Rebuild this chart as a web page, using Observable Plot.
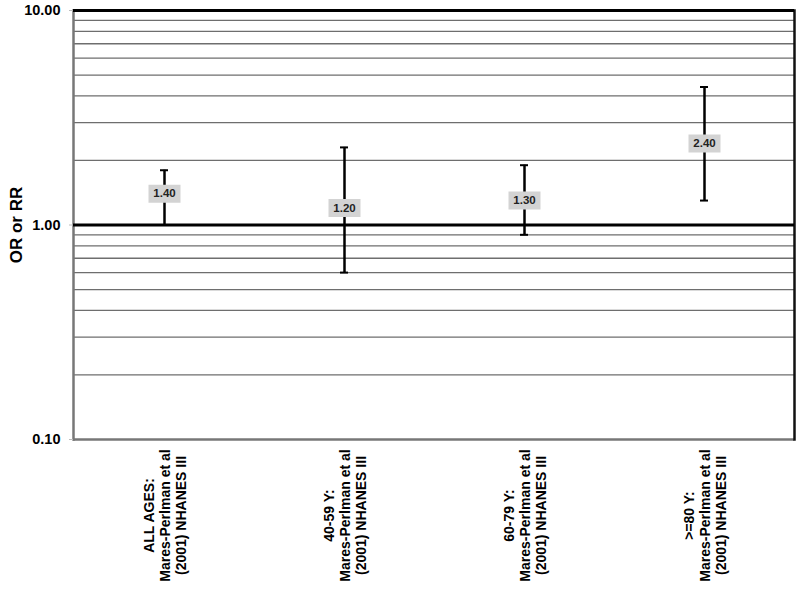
<!DOCTYPE html>
<html>
<head>
<meta charset="utf-8">
<script src="https://cdn.jsdelivr.net/npm/d3@7"></script>
<script src="https://cdn.jsdelivr.net/npm/@observablehq/plot@0.6"></script>
<style>
  html, body { margin: 0; padding: 0; background: #fff; }
  #chart { width: 800px; height: 589px; }
</style>
</head>
<body>
<div id="chart"></div>
<script>
// ---- data ----
const groups = ["ALL AGES:", "40-59 Y:", "60-79 Y:", ">=80 Y:"];
const sourceLine1 = "Mares-Perlman et al";
const sourceLine2 = "(2001) NHANES III";
const estimates = [1.40, 1.20, 1.30, 2.40];
const lowerCI = [1.0, 0.6, 0.9, 1.3];
const upperCI = [1.8, 2.3, 1.9, 4.4];
const yTickValues = [0.1, 1, 10];
const minorGrid = [0.2, 0.3, 0.4, 0.5, 0.6, 0.7, 0.8, 0.9, 2, 3, 4, 5, 6, 7, 8, 9];
const yLabel = "OR or RR";

const rows = groups.map((g, i) => ({
  group: g,
  label: g + "\n" + sourceLine1 + "\n" + sourceLine2,
  est: estimates[i],
  lo: lowerCI[i],
  hi: upperCI[i]
}));

// rectangular symbol for the grey value boxes
const boxSymbol = {
  draw(context) {
    context.moveTo(-16, -9);
    context.lineTo(16, -9);
    context.lineTo(16, 9);
    context.lineTo(-16, 9);
    context.closePath();
  }
};

const font = "Liberation Sans, Arial, Helvetica, sans-serif";

const chart = Plot.plot({
  width: 800,
  height: 589,
  marginLeft: 73,
  marginRight: 6,
  marginTop: 10,
  marginBottom: 150,
  style: { fontFamily: font, background: "#fff", color: "#000" },
  x: { domain: groups, padding: 0, axis: null },
  y: { type: "log", domain: [0.1, 10], axis: null },
  marks: [
    Plot.ruleY(minorGrid, { stroke: "#6e6e6e", strokeWidth: 1.3 }),
    Plot.ruleY([0.1], { stroke: "#777", strokeWidth: 2.5 }),
    Plot.frame({ anchor: "left", stroke: "#777", strokeWidth: 2.5 }),
    Plot.frame({ anchor: "right", stroke: "#111", strokeWidth: 2.5 }),
    Plot.ruleY([1], { stroke: "#000", strokeWidth: 3.2 }),
    Plot.ruleY([10], { stroke: "#000", strokeWidth: 3.2 }),
    Plot.axisY({
      ticks: yTickValues,
      tickFormat: d => d.toFixed(2),
      tickSize: 4,
      tickPadding: 9,
      stroke: "#bbb",
      fontSize: 14.5,
      fontWeight: "bold",
      fill: "#000",
      label: null
    }),
    Plot.text([yLabel], {
      frameAnchor: "left",
      rotate: -90,
      dx: -57,
      textAnchor: "middle",
      lineAnchor: "middle",
      fontSize: 17,
      fontWeight: "bold",
      fill: "#000"
    }),
    Plot.text(rows, {
      x: "group",
      text: "label",
      frameAnchor: "bottom",
      rotate: -90,
      dy: 76,
      textAnchor: "middle",
      lineAnchor: "middle",
      lineHeight: 1.15,
      fontSize: 14,
      fontWeight: "bold",
      fill: "#000"
    }),
    Plot.ruleX(rows, { x: "group", y1: "lo", y2: "hi", stroke: "#000", strokeWidth: 2.5 }),
    Plot.tickY(rows, { x: "group", y: "hi", insetLeft: 86, insetRight: 86, stroke: "#000", strokeWidth: 2 }),
    Plot.tickY(rows, { x: "group", y: "lo", insetLeft: 86, insetRight: 86, stroke: "#000", strokeWidth: 2 }),
    Plot.dot(rows, { x: "group", y: "est", symbol: boxSymbol, fill: "#d3d3d3", stroke: "none", r: 5 }),
    Plot.text(rows, {
      x: "group",
      y: "est",
      text: d => d.est.toFixed(2),
      fontSize: 11.5,
      fontWeight: "bold",
      fill: "#222"
    })
  ]
});

document.getElementById("chart").appendChild(chart);
</script>
</body>
</html>
